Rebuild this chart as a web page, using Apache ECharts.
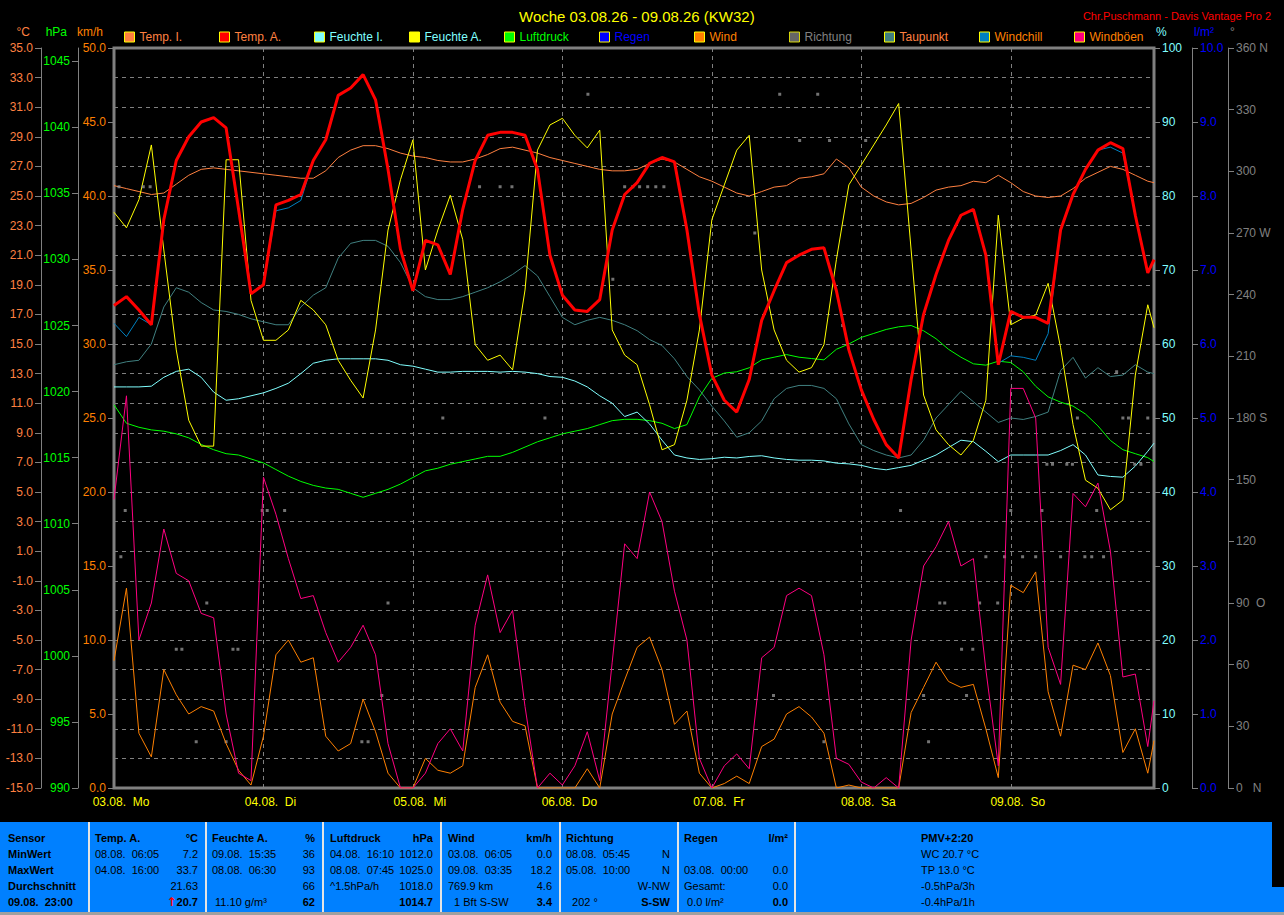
<!DOCTYPE html>
<html>
<head>
<meta charset="utf-8">
<title>Woche 03.08.26 - 09.08.26 (KW32)</title>
<script src="https://cdn.jsdelivr.net/npm/echarts@6/dist/echarts.min.js"></script>
<style>
  html, body { margin: 0; padding: 0; background: #000; overflow: hidden; }
  #chart { position: absolute; left: 0; top: 0; width: 1284px; height: 915px; }
  #panel { position: absolute; left: 0; top: 822px; width: 1272px; height: 90px; background: #0080ff;
           font: 11px 'Liberation Sans', Arial, sans-serif; color: #000; }
  #panel-strip { position: absolute; left: 1272px; top: 887px; width: 12px; height: 25px; background: #0080ff; }
  #panel-foot { position: absolute; left: 0; top: 912px; width: 1284px; height: 3px; background: #a0a0a0; }
  .sep { position: absolute; top: 0; width: 2px; height: 90px; background: #e4e4e4; }
  .col { position: absolute; top: 8px; }
  .row { height: 16px; line-height: 16px; display: flex; justify-content: space-between; white-space: pre; }
  .b { font-weight: bold; }
  .up { color: #ff0000; font-weight: bold; font-family: 'DejaVu Sans', sans-serif; font-size: 12px; }
</style>
</head>
<body>
<div id="chart"></div>

<div id="panel">
  <div class="sep" style="left:88px"></div>
  <div class="sep" style="left:205px"></div>
  <div class="sep" style="left:322px"></div>
  <div class="sep" style="left:440px"></div>
  <div class="sep" style="left:559px"></div>
  <div class="sep" style="left:677px"></div>
  <div class="sep" style="left:794px"></div>

  <div class="col b" style="left:8px;width:78px">
    <div class="row">Sensor</div>
    <div class="row">MinWert</div>
    <div class="row">MaxWert</div>
    <div class="row">Durchschnitt</div>
    <div class="row">09.08.  23:00</div>
  </div>
  <div class="col" style="left:95px;width:103px">
    <div class="row b"><span>Temp. A.</span><span>°C</span></div>
    <div class="row"><span>08.08.  06:05</span><span>7.2</span></div>
    <div class="row"><span>04.08.  16:00</span><span>33.7</span></div>
    <div class="row"><span></span><span>21.63</span></div>
    <div class="row b"><span></span><span><span class="up">↑</span>20.7</span></div>
  </div>
  <div class="col" style="left:212px;width:103px">
    <div class="row b"><span>Feuchte A.</span><span>%</span></div>
    <div class="row"><span>09.08.  15:35</span><span>36</span></div>
    <div class="row"><span>08.08.  06:30</span><span>93</span></div>
    <div class="row"><span></span><span>66</span></div>
    <div class="row"><span> 11.10 g/m³</span><span class="b">62</span></div>
  </div>
  <div class="col" style="left:330px;width:103px">
    <div class="row b"><span>Luftdruck</span><span>hPa</span></div>
    <div class="row"><span>04.08.  16:10</span><span>1012.0</span></div>
    <div class="row"><span>08.08.  07:45</span><span>1025.0</span></div>
    <div class="row"><span>^1.5hPa/h</span><span>1018.0</span></div>
    <div class="row b"><span></span><span>1014.7</span></div>
  </div>
  <div class="col" style="left:448px;width:104px">
    <div class="row b"><span>Wind</span><span>km/h</span></div>
    <div class="row"><span>03.08.  06:05</span><span>0.0</span></div>
    <div class="row"><span>09.08.  03:35</span><span>18.2</span></div>
    <div class="row"><span>769.9 km</span><span>4.6</span></div>
    <div class="row"><span>  1 Bft S-SW</span><span class="b">3.4</span></div>
  </div>
  <div class="col" style="left:566px;width:104px">
    <div class="row b"><span>Richtung</span><span></span></div>
    <div class="row"><span>08.08.  05:45</span><span>N</span></div>
    <div class="row"><span>05.08.  10:00</span><span>N</span></div>
    <div class="row"><span></span><span>W-NW</span></div>
    <div class="row"><span>  202 °</span><span class="b">S-SW</span></div>
  </div>
  <div class="col" style="left:684px;width:104px">
    <div class="row b"><span>Regen</span><span>l/m²</span></div>
    <div class="row"><span></span><span></span></div>
    <div class="row"><span>03.08.  00:00</span><span>0.0</span></div>
    <div class="row"><span>Gesamt:</span><span>0.0</span></div>
    <div class="row"><span> 0.0 l/m²</span><span class="b">0.0</span></div>
  </div>
  <div class="col" style="left:921px;width:200px">
    <div class="row b">PMV+2:20</div>
    <div class="row">WC 20.7 °C</div>
    <div class="row">TP 13.0 °C</div>
    <div class="row">-0.5hPa/3h</div>
    <div class="row">-0.4hPa/1h</div>
  </div>
</div>
<div id="panel-strip"></div>
<div id="panel-foot"></div>

<script>
  const FONT = "'Liberation Sans', Arial, sans-serif";

  // hours since 03.08. 00:00 (2-hour readings, last one 09.08. 23:00)
  const hours = [0, 2, 4, 6, 8, 10, 12, 14, 16, 18, 20, 22,
    24, 26, 28, 30, 32, 34, 36, 38, 40, 42, 44, 46,
    48, 50, 52, 54, 56, 58, 60, 62, 64, 66, 68, 70,
    72, 74, 76, 78, 80, 82, 84, 86, 88, 90, 92, 94,
    96, 98, 100, 102, 104, 106, 108, 110, 112, 114, 116, 118,
    120, 122, 124, 126, 128, 130, 132, 134, 136, 138, 140, 142,
    144, 146, 148, 150, 152, 154, 156, 158, 160, 162, 164, 166, 167];

  const dayLabels = ['03.08.\u00a0\u00a0Mo', '04.08.\u00a0\u00a0Di', '05.08.\u00a0\u00a0Mi', '06.08.\u00a0\u00a0Do',
    '07.08.\u00a0\u00a0Fr', '08.08.\u00a0\u00a0Sa', '09.08.\u00a0\u00a0So'];

  // °C
  const tempInnen = [25.7, 25.5, 25.3, 25.1, 25.2, 25.8, 26.4, 26.8, 26.9, 26.8, 26.7, 26.6,
    26.5, 26.4, 26.3, 26.2, 26.2, 26.7, 27.6, 28.1, 28.4, 28.4, 28.2, 27.9,
    27.7, 27.6, 27.4, 27.3, 27.3, 27.5, 27.8, 28.2, 28.3, 28.1, 27.9, 27.6,
    27.4, 27.2, 27.0, 26.8, 26.7, 26.7, 26.8, 27.2, 27.5, 27.3, 26.8, 26.3,
    26.0, 25.6, 25.2, 25.0, 25.3, 25.6, 25.7, 26.2, 26.3, 26.5, 27.5, 26.9,
    25.6, 25.0, 24.6, 24.4, 24.5, 24.9, 25.4, 25.6, 25.7, 26.0, 25.9, 26.4,
    25.9, 25.3, 25.0, 24.9, 25.0, 25.5, 26.2, 26.6, 27.0, 26.8, 26.4, 26.0, 25.9];

  const tempAussen = [17.6, 18.2, 17.3, 16.3, 23.4, 27.4, 29.0, 30.0, 30.3, 29.6, 24.1, 18.4,
    19.0, 24.4, 24.7, 25.1, 27.4, 28.8, 31.8, 32.3, 33.2, 31.5, 26.8, 21.4,
    18.6, 22.0, 21.7, 19.7, 24.1, 27.4, 29.1, 29.3, 29.3, 29.1, 26.8, 21.0,
    18.3, 17.3, 17.2, 18.0, 22.7, 25.1, 25.9, 27.2, 27.6, 27.3, 22.7, 17.0,
    12.9, 11.2, 10.4, 12.6, 16.6, 18.6, 20.5, 21.0, 21.4, 21.5, 18.6, 14.6,
    11.9, 9.9, 8.2, 7.3, 12.6, 17.0, 19.7, 22.0, 23.7, 24.1, 21.0, 13.6,
    17.2, 16.8, 16.8, 16.4, 22.7, 25.1, 26.8, 28.1, 28.6, 28.2, 23.7, 19.8, 20.7];

  const windchill = [16.4, 15.5, 16.8, 16.3, 23.4, 27.4, 29.0, 30.0, 30.3, 29.6, 24.1, 18.4,
    19.0, 24.0, 24.2, 24.7, 27.4, 28.8, 31.8, 32.3, 33.2, 31.5, 26.8, 21.4,
    18.6, 22.0, 21.7, 19.7, 24.1, 27.4, 29.1, 29.3, 29.3, 29.1, 26.8, 21.0,
    18.3, 17.3, 17.2, 18.0, 22.7, 25.1, 25.9, 27.2, 27.6, 27.3, 22.7, 17.0,
    12.9, 11.2, 10.4, 12.6, 16.6, 18.6, 20.5, 21.0, 21.4, 21.5, 18.6, 14.6,
    11.9, 9.9, 8.2, 7.3, 12.6, 17.0, 19.7, 22.0, 23.7, 24.1, 21.0, 13.7,
    14.2, 14.1, 13.9, 15.7, 22.7, 25.1, 26.8, 28.1, 28.3, 27.9, 23.7, 19.8, 20.7];

  const taupunkt = [13.6, 13.8, 13.9, 15.0, 17.5, 18.8, 18.5, 17.8, 17.3, 17.2, 17.0, 16.7,
    16.5, 16.3, 16.3, 17.5, 18.3, 18.8, 20.8, 21.8, 22.0, 22.0, 21.6, 20.5,
    18.8, 18.2, 18.0, 18.0, 18.2, 18.5, 18.8, 19.2, 19.7, 20.3, 19.6, 18.2,
    16.8, 16.3, 16.6, 16.8, 16.6, 16.3, 15.9, 15.3, 14.9, 14.0, 12.8, 11.9,
    10.8, 9.8, 8.7, 9.0, 9.8, 11.3, 12.0, 12.2, 12.2, 12.0, 11.3, 9.6,
    8.2, 7.8, 7.5, 7.3, 7.5, 8.5, 10.0, 10.9, 11.8, 11.1, 10.4, 9.7,
    10.0, 9.9, 10.1, 10.4, 13.2, 14.1, 12.7, 13.4, 12.8, 12.9, 13.6, 13.1, 13.0];

  // %
  const feuchteInnen = [54.2, 54.2, 54.2, 54.3, 55.5, 56.3, 56.6, 55.5, 53.5, 52.4, 52.6, 53.0,
    53.4, 54.0, 54.7, 56.0, 57.4, 57.8, 58.0, 58.0, 58.0, 58.0, 57.8, 57.2,
    57.0, 56.6, 56.2, 56.2, 56.3, 56.3, 56.3, 56.2, 56.3, 56.2, 56.0, 55.6,
    55.5, 55.0, 54.2, 53.0, 52.0, 50.2, 50.8, 49.2, 47.0, 45.0, 44.6, 44.4,
    44.5, 44.7, 44.6, 44.8, 44.9, 44.6, 44.4, 44.3, 44.3, 44.2, 43.9, 43.8,
    43.6, 43.2, 43.0, 43.3, 43.6, 44.3, 45.0, 46.0, 47.0, 46.8, 45.5, 44.1,
    45.0, 45.0, 45.0, 45.0, 45.6, 46.4, 45.0, 42.3, 42.1, 42.0, 43.5, 45.5, 46.6];

  const feuchteAussen = [77.8, 75.7, 79.5, 86.9, 72.7, 59.2, 49.7, 46.2, 46.2, 84.9, 84.9, 65.9,
    60.5, 60.5, 61.9, 65.9, 64.6, 62.6, 57.8, 55.1, 52.7, 61.9, 75.4, 82.2,
    87.6, 70.0, 75.4, 80.1, 74.1, 59.9, 57.8, 58.5, 56.5, 67.3, 86.2, 89.6,
    90.5, 88.2, 86.5, 88.9, 61.9, 58.5, 57.2, 51.8, 45.7, 46.4, 52.4, 61.9,
    76.8, 81.5, 86.2, 88.2, 70.0, 61.9, 57.8, 56.2, 56.8, 59.9, 71.4, 81.5,
    84.2, 86.9, 89.6, 92.5, 72.7, 53.1, 48.4, 46.4, 45.0, 47.0, 52.4, 77.4,
    62.6, 63.5, 63.9, 68.2, 59.5, 49.1, 41.6, 40.5, 37.6, 38.9, 55.8, 65.3, 62.2];

  // hPa
  const luftdruck = [1019.0, 1017.6, 1017.3, 1017.1, 1017.0, 1016.8, 1016.5, 1016.0, 1015.6, 1015.3, 1015.2, 1014.9,
    1014.6, 1014.1, 1013.6, 1013.2, 1012.9, 1012.7, 1012.6, 1012.3, 1012.0, 1012.3, 1012.6, 1013.0,
    1013.5, 1014.0, 1014.2, 1014.5, 1014.7, 1014.9, 1015.1, 1015.1, 1015.4, 1015.8, 1016.2, 1016.5,
    1016.8, 1017.0, 1017.2, 1017.5, 1017.8, 1017.9, 1017.9, 1017.8, 1017.6, 1017.2, 1017.5, 1019.6,
    1021.0, 1021.4, 1021.5, 1021.8, 1022.4, 1022.6, 1022.8, 1022.6, 1022.5, 1022.4, 1023.2, 1023.6,
    1024.1, 1024.4, 1024.7, 1024.9, 1025.0, 1024.6, 1024.0, 1023.2, 1022.6, 1022.1, 1022.0, 1022.3,
    1022.2, 1021.5, 1020.4, 1019.6, 1019.2, 1018.9, 1018.3, 1017.4, 1016.3, 1015.6, 1015.3, 1015.0, 1014.7];

  // km/h
  const wind = [8.6, 13.5, 3.7, 2.1, 8.0, 6.3, 5.0, 5.5, 5.2, 3.0, 1.2, 0.2,
    3.5, 9.0, 10.0, 8.5, 8.8, 3.5, 2.5, 3.0, 6.0, 3.8, 1.0, 0.0,
    0.0, 2.0, 1.2, 1.0, 1.5, 6.8, 9.0, 5.8, 4.5, 4.2, 0.0, 0.0,
    0.0, 0.0, 1.3, 0.0, 5.0, 7.3, 9.5, 10.2, 8.0, 4.3, 5.2, 1.0,
    0.0, 0.3, 0.8, 0.3, 2.8, 3.3, 5.0, 5.5, 4.8, 3.7, 0.0, 0.2,
    0.0, 0.0, 0.0, 0.0, 5.1, 6.8, 8.5, 7.2, 6.8, 7.0, 4.0, 0.7,
    13.7, 13.2, 14.6, 6.5, 3.5, 8.3, 8.0, 9.8, 7.6, 2.4, 4.0, 1.0, 3.2];

  const windboeen = [19.5, 26.5, 10.0, 12.5, 17.5, 14.5, 14.0, 11.8, 11.5, 5.0, 1.0, 0.5,
    21.0, 18.5, 15.5, 12.8, 13.0, 10.5, 8.5, 9.5, 11.0, 9.0, 3.0, 0.0,
    0.0, 1.0, 3.0, 4.0, 2.5, 11.0, 14.4, 10.5, 12.0, 5.5, 0.0, 1.0,
    0.2, 1.5, 3.8, 0.5, 8.5, 16.5, 15.5, 20.0, 18.0, 13.3, 10.0, 2.0,
    0.0, 1.5, 2.3, 1.3, 8.8, 9.5, 13.0, 13.5, 13.0, 9.0, 2.0, 1.6,
    0.4, 0.0, 0.7, 0.0, 10.0, 15.0, 16.3, 18.0, 15.0, 15.5, 8.0, 1.5,
    27.0, 27.0, 25.0, 9.5, 7.0, 19.9, 19.0, 20.6, 16.0, 7.5, 7.7, 2.8, 5.9];

  // l/m²
  const regenHours = [0, 167];
  const regen = [0.0, 0.0];

  // wind direction readings (°)
  const richtungHours = [0.8, 1.1, 1.8, 4.7, 5.8, 10.0, 10.9, 13.2, 14.9, 18.0, 19.1, 19.9,
    23.8, 24.6, 27.4, 39.8, 40.8, 43.0, 44.0, 52.8, 58.7, 62.0, 63.9, 69.2,
    76.1, 80.1, 82.0, 83.3, 84.4, 85.7, 87.0, 88.3, 102.9, 105.9, 106.9, 110.1,
    113.0, 114.0, 114.9, 117.0, 120.7, 126.3, 130.0, 130.8, 132.6, 133.4, 136.1, 136.9,
    137.9, 139.0, 140.0, 141.9, 143.0, 144.0, 145.9, 148.0, 149.0, 149.8, 150.7, 152.0,
    153.0, 153.9, 154.7, 155.9, 157.0, 157.8, 158.9, 161.0, 162.0, 162.9, 163.9, 164.9, 166.0];
  const richtung = [292.5, 112.5, 135, 292.5, 292.5, 67.5, 67.5, 22.5, 90, 22.5, 67.5, 67.5,
    135, 135, 135, 22.5, 22.5, 45, 90, 180, 292.5, 292.5, 292.5, 180,
    337.5, 247.5, 292.5, 292.5, 292.5, 292.5, 292.5, 292.5, 270, 45, 337.5, 315,
    337.5, 22.5, 315, 225, 315, 135, 45, 22.5, 90, 90, 67.5, 45,
    67.5, 90, 112.5, 90, 112.5, 135, 112.5, 112.5, 135, 157.5, 157.5, 112.5,
    157.5, 157.5, 180, 112.5, 112.5, 135, 112.5, 202.5, 180, 180, 157.5, 157.5, 180];

  const pressureTicks = [990, 995, 1000, 1005, 1010, 1015, 1020, 1025, 1030, 1035, 1040, 1045];
  const dirTicks = [0, 30, 60, 90, 120, 150, 180, 210, 240, 270, 300, 330, 360];
  const dirTickLabels = ['0\u00a0\u00a0\u00a0N', '30', '60', '90\u00a0\u00a0O', '120', '150', '180\u00a0S',
    '210', '240', '270\u00a0W', '300', '330', '360\u00a0N'];

  const legendNames = ['Temp. I.', 'Temp. A.', 'Feuchte I.', 'Feuchte A.', 'Luftdruck', 'Regen',
    'Wind', 'Richtung', 'Taupunkt', 'Windchill', 'Windböen'];
  const legendIconColors = ['#ff8040', '#ff0000', '#80ffff', '#ffff00', '#00ff00', '#0000ff',
    '#ff8000', '#808080', '#408080', '#0080c0', '#ff0080'];
  const legendTextColors = ['#ff8040', '#ff8040', '#80ffff', '#80ffff', '#00ff00', '#0000ff',
    '#ff8000', '#808080', '#ff8040', '#ff8000', '#ff8000'];

  function pairs(xs, ys) {
    return xs.map((x, i) => [x, ys[i]]);
  }

  function lineSeries(name, xs, ys, yAxisIndex, color, width, z) {
    return {
      name: name,
      type: 'line',
      yAxisIndex: yAxisIndex,
      data: pairs(xs, ys),
      showSymbol: false,
      symbol: 'none',
      z: z,
      lineStyle: { color: color, width: width },
      itemStyle: { color: color }
    };
  }

  function yAxis(opts) {
    const color = opts.color;
    return {
      type: 'value',
      position: opts.position,
      offset: opts.offset,
      min: opts.min,
      max: opts.max,
      interval: opts.interval,
      name: opts.name,
      nameLocation: 'end',
      nameGap: 10,
      nameTextStyle: {
        color: color, fontSize: 12, fontFamily: FONT,
        align: opts.position === 'left' ? 'right' : 'left',
        padding: opts.position === 'left' ? [0, 11, 0, 0] : [0, 0, 0, 2]
      },
      axisLine: { show: opts.line !== false, onZero: false, lineStyle: { color: '#808080', width: 1 } },
      axisTick: { show: true, length: 6, lineStyle: { color: '#808080' }, customValues: opts.ticks },
      axisLabel: {
        color: color, fontSize: 12, fontFamily: FONT, margin: 8,
        formatter: opts.formatter, customValues: opts.ticks,
        showMinLabel: true, showMaxLabel: true
      },
      splitLine: opts.split
        ? { show: true, lineStyle: { color: '#808080', width: 1, type: [4, 4] } }
        : { show: false }
    };
  }

  const chart = echarts.init(document.getElementById('chart'), null, { renderer: 'svg' });

  const option = {
    backgroundColor: '#000',
    animation: false,
    textStyle: { fontFamily: FONT },
    title: [
      {
        text: 'Woche 03.08.26 - 09.08.26 (KW32)',
        left: 514, top: 4,
        textStyle: { color: '#ffff00', fontSize: 15, fontWeight: 'normal', fontFamily: FONT }
      },
      {
        text: 'Chr.Puschmann - Davis Vantage Pro 2',
        right: 8, top: 5,
        textStyle: { color: '#ff0000', fontSize: 11, fontWeight: 'normal', fontFamily: FONT }
      }
    ],
    legend: legendNames.map((name, i) => ({
      left: 124 + i * 95,
      top: 31,
      icon: 'rect',
      itemWidth: 10,
      itemHeight: 10,
      itemGap: 0,
      selectedMode: false,
      padding: 0,
      textStyle: { fontSize: 12, fontFamily: FONT },
      data: [{
        name: name,
        itemStyle: { color: legendIconColors[i], borderColor: '#ffff00', borderWidth: 1 },
        textStyle: { color: legendTextColors[i] }
      }]
    })),
    grid: {
      left: 114, top: 48, right: 130, bottom: 127,
      show: true, borderColor: '#808080', borderWidth: 3, backgroundColor: '#000',
      containLabel: false, outerBoundsMode: 'none'
    },
    xAxis: {
      type: 'value',
      min: 0,
      max: 167,
      interval: 24,
      axisLine: { show: false },
      axisTick: { show: true, length: 4, lineStyle: { color: '#808080' } },
      axisLabel: {
        color: '#ffff00', fontSize: 12, fontFamily: FONT, margin: 8,
        padding: [0, 0, 0, 14],
        showMaxLabel: false,
        formatter: v => dayLabels[v / 24] || ''
      },
      splitLine: { show: true, lineStyle: { color: '#808080', width: 1, type: [4, 4] } }
    },
    yAxis: [
      yAxis({ position: 'left', offset: 73, min: -15, max: 35, interval: 2, name: '°C', color: '#ff8040',
        split: true, formatter: v => v.toFixed(1) }),
      yAxis({ position: 'left', offset: 36, min: 990, max: 1046, interval: 5, name: 'hPa', color: '#00ff00',
        ticks: pressureTicks, formatter: v => String(v) }),
      yAxis({ position: 'left', offset: 0, min: 0, max: 50, interval: 5, name: 'km/h', color: '#ff8000',
        line: false, formatter: v => v.toFixed(1) }),
      yAxis({ position: 'right', offset: 0, min: 0, max: 100, interval: 10, name: '%', color: '#80ffff',
        line: false, formatter: v => String(v) }),
      yAxis({ position: 'right', offset: 38, min: 0, max: 10, interval: 1, name: 'l/m²', color: '#0000ff',
        formatter: v => v.toFixed(1) }),
      yAxis({ position: 'right', offset: 74, min: 0, max: 360, interval: 30, name: '°', color: '#808080',
        ticks: dirTicks, formatter: v => dirTickLabels[dirTicks.indexOf(v)] || '' })
    ],
    series: [
      lineSeries('Regen', regenHours, regen, 4, '#0000ff', 1, -1),
      lineSeries('Luftdruck', hours, luftdruck, 1, '#00ff00', 1, 2),
      lineSeries('Feuchte I.', hours, feuchteInnen, 3, '#80ffff', 1, 2),
      lineSeries('Taupunkt', hours, taupunkt, 0, '#408080', 1, 2),
      lineSeries('Temp. I.', hours, tempInnen, 0, '#ff8040', 1, 2),
      lineSeries('Feuchte A.', hours, feuchteAussen, 3, '#ffff00', 1, 3),
      {
        name: 'Richtung',
        type: 'scatter',
        yAxisIndex: 5,
        symbol: 'rect',
        symbolSize: 3,
        z: 3,
        itemStyle: { color: '#909090' },
        data: pairs(richtungHours, richtung)
      },
      lineSeries('Wind', hours, wind, 2, '#ff8000', 1, 4),
      lineSeries('Windböen', hours, windboeen, 2, '#ff0080', 1, 4),
      lineSeries('Windchill', hours, windchill, 0, '#0080c0', 1, 5),
      lineSeries('Temp. A.', hours, tempAussen, 0, '#ff0000', 3, 6)
    ]
  };

  chart.setOption(option);
</script>
</body>
</html>
